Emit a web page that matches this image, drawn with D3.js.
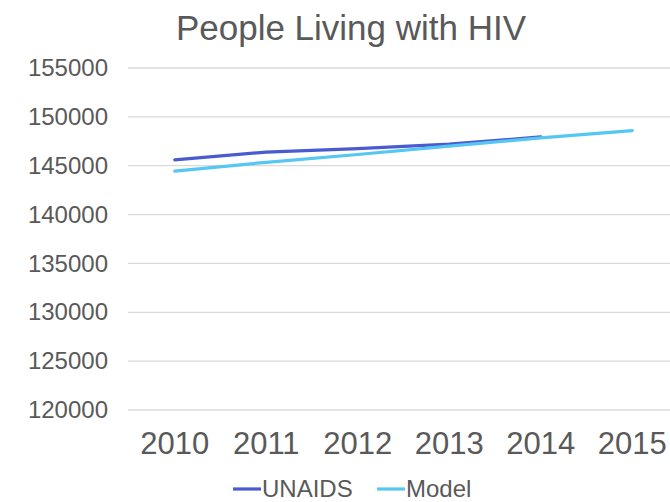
<!DOCTYPE html>
<html>
<head>
<meta charset="utf-8">
<script src="https://cdn.jsdelivr.net/npm/d3@7"></script>
<style>
  body { margin: 0; background: #fff; }
  text { font-family: "Liberation Sans", Arial, sans-serif; fill: #595959; }
</style>
</head>
<body>
<div id="chart"></div>
<script>
// data
var years = ["2010", "2011", "2012", "2013", "2014", "2015"];
var unaids = [145600, 146400, 146750, 147200, 147950, null];
var model = [144450, 145350, 146150, 147000, 147850, 148600];
var yTicks = [120000, 125000, 130000, 135000, 140000, 145000, 150000, 155000];

var W = 670, H = 502;
var margin = {top: 68, right: -8, bottom: 92, left: 129},
    width = W - margin.left - margin.right,
    height = H - margin.top - margin.bottom;

var svg = d3.select("#chart")
  .append("svg")
    .attr("width", W)
    .attr("height", H);

var g = svg.append("g")
    .attr("transform", "translate(" + margin.left + "," + margin.top + ")");

// title
svg.append("text")
    .attr("x", 351)
    .attr("y", 40)
    .attr("text-anchor", "middle")
    .style("font-size", "35px")
    .text("People Living with HIV");

// scales
var x = d3.scaleBand()
  .domain(years)
  .range([0, width]);

var y = d3.scaleLinear()
  .domain([120000, 155000])
  .range([height, 0]);

// gridlines
g.selectAll(".grid")
  .data(yTicks)
  .enter()
  .append("line")
    .attr("x1", -1)
    .attr("x2", width)
    .attr("y1", function(d) { return y(d); })
    .attr("y2", function(d) { return y(d); })
    .attr("stroke", "#d9d9d9")
    .attr("stroke-width", 1.3);

// Y axis labels
var yAxis = g.append("g")
  .call(d3.axisLeft(y).tickValues(yTicks).tickFormat(d3.format("d")).tickSize(0).tickPadding(21));
yAxis.select(".domain").remove();
yAxis.selectAll("text")
  .style("font-size", "24px")
  .style("font-family", "'Liberation Sans', Arial, sans-serif")
  .attr("fill", "#595959");

// X axis labels
var xAxis = g.append("g")
  .attr("transform", "translate(0," + height + ")")
  .call(d3.axisBottom(x).tickSize(0).tickPadding(22));
xAxis.select(".domain").remove();
xAxis.selectAll("text")
  .style("font-size", "31px")
  .style("font-family", "'Liberation Sans', Arial, sans-serif")
  .attr("fill", "#595959");

// lines
var line = d3.line()
  .defined(function(d) { return d.v != null; })
  .x(function(d) { return x(d.year) + x.bandwidth() / 2; })
  .y(function(d) { return y(d.v); });

var series = [
  {name: "UNAIDS", color: "#4a5bd0", values: unaids},
  {name: "Model", color: "#56c6f2", values: model}
];

series.forEach(function(s) {
  g.append("path")
    .datum(years.map(function(yr, i) { return {year: yr, v: s.values[i]}; }))
    .attr("fill", "none")
    .attr("stroke", s.color)
    .attr("stroke-width", 3.2)
    .attr("stroke-linecap", "round")
    .attr("d", line);
});

// legend
var legend = svg.append("g").attr("transform", "translate(0,489)");
var legX = [233, 377];
series.forEach(function(s, i) {
  legend.append("line")
    .attr("x1", legX[i])
    .attr("x2", legX[i] + 28)
    .attr("y1", 0)
    .attr("y2", 0)
    .attr("stroke", s.color)
    .attr("stroke-width", 3.2);
  legend.append("text")
    .attr("x", legX[i] + 29)
    .attr("y", 8)
    .style("font-size", "24px")
    .text(s.name);
});
</script>
</body>
</html>
